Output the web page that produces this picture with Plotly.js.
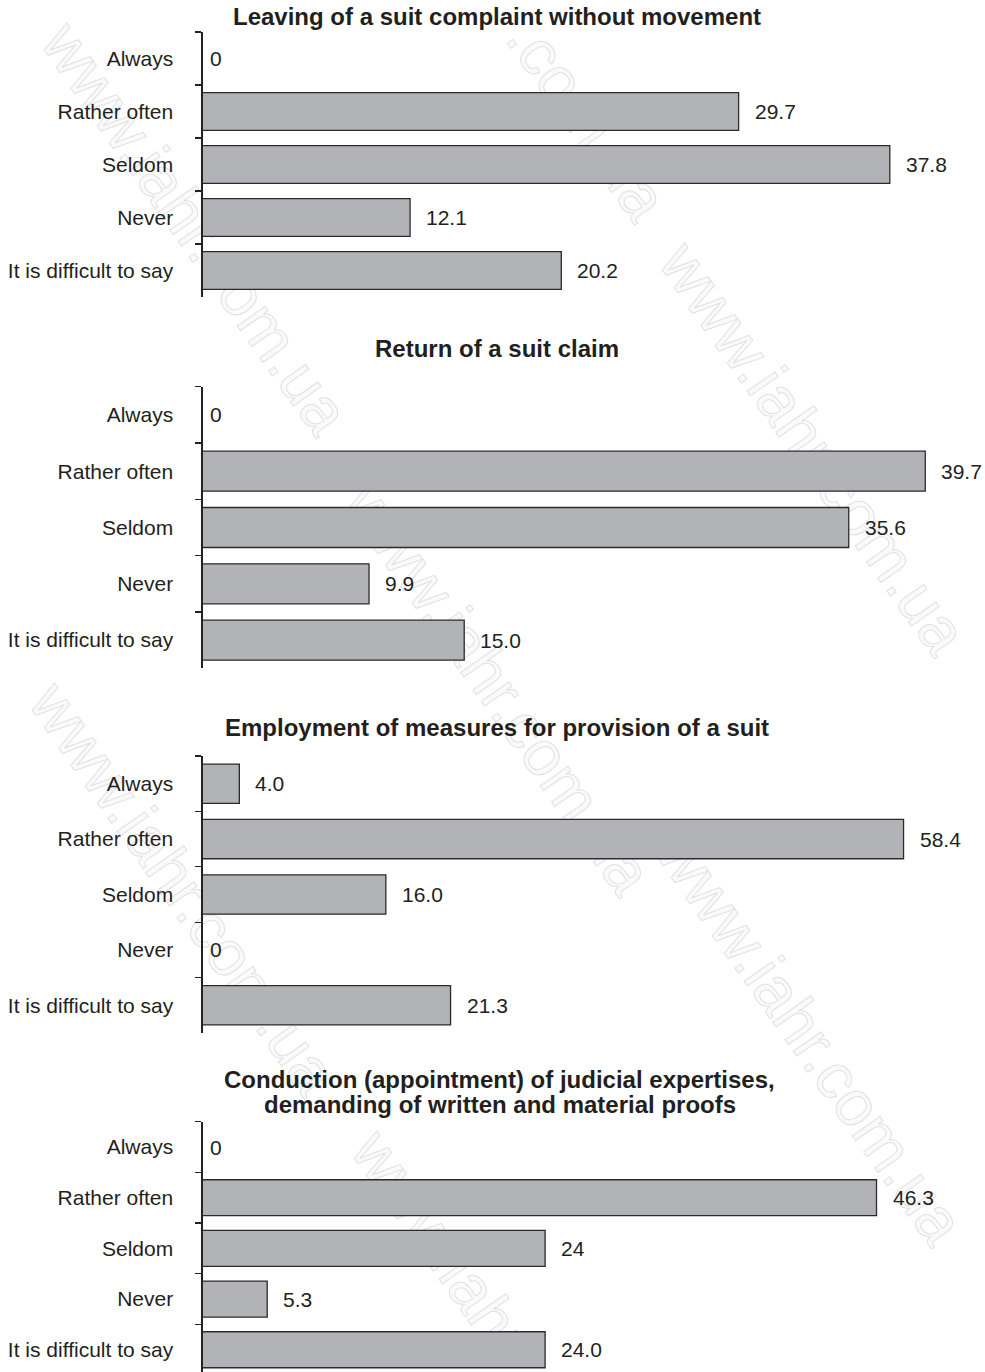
<!DOCTYPE html>
<html>
<head>
<meta charset="utf-8">
<script src="https://cdn.plot.ly/plotly-3.0.1.min.js"></script>
<style>
  html, body { margin: 0; padding: 0; background: #ffffff; }
  #wrap { position: relative; width: 985px; height: 1372px; overflow: hidden; }
  .wm { position: absolute; font-family: "Liberation Sans", Arial, sans-serif; font-size: 64px;
        color: #fafafa; -webkit-text-stroke: 1px #e1e1e1; white-space: nowrap;
        transform-origin: 0 50%; line-height: 64px; z-index: 0; }
  #chart { position: absolute; left: 0; top: 0; width: 985px; height: 1372px; z-index: 1; }
</style>
</head>
<body>
<div id="wrap">
  <div id="chart"></div>
</div>
<script>
// ---- data ----
const categories = ["Always", "Rather often", "Seldom", "Never", "It is difficult to say"];

const titles = [
  "Leaving of a suit complaint without movement",
  "Return of a suit claim",
  "Employment of measures for provision of a suit",
  "Conduction (appointment) of judicial expertises,",
  "demanding of written and material proofs"
];

const values1 = [0, 29.7, 37.8, 12.1, 20.2];
const labels1 = ["0", "29.7", "37.8", "12.1", "20.2"];

const values2 = [0, 39.7, 35.6, 9.9, 15.0];
const labels2 = ["0", "39.7", "35.6", "9.9", "15.0"];

const values3 = [4.0, 58.4, 16.0, 0, 21.3];
const labels3 = ["4.0", "58.4", "16.0", "0", "21.3"];

const values4 = [0, 46.3, 24, 5.3, 24.0];
const labels4 = ["0", "46.3", "24", "5.3", "24.0"];

const watermarkTexts = ["www.iahr.com.ua", ".com.ua", "www.iahr.com.ua", "www.iahr.com.ua",
                        "www.iahr.com.ua", "www.iahr.com.ua", "www.iahr"];

// ---- watermarks (behind the chart) ----
const wmStarts = [[57, 30], [522, 26], [675, 250], [360, 490], [45, 690], [672, 840], [367, 1138]];
const wrap = document.getElementById('wrap');
wmStarts.forEach(function (p, i) {
  const d = document.createElement('div');
  d.className = 'wm';
  d.textContent = watermarkTexts[i];
  d.style.left = p[0] + 'px';
  d.style.top = (p[1] - 32) + 'px';
  d.style.transform = 'rotate(55deg)';
  wrap.insertBefore(d, wrap.firstChild);
});

// ---- layout helpers ----
const W = 985, H = 1372;
const FONT = '"Liberation Sans", Arial, Helvetica, sans-serif';
const INK = '#231f20';
const axisLeft = 202.7 / W;

const panels = [
  { vals: values1, labs: labels1, xr: [0.99, 42.9], top: 32, bottom: 297, yr: [4.5, -0.5] },
  { vals: values2, labs: labels2, xr: [0.99, 42.9], top: 386.7, bottom: 668.3, yr: [4.5, -0.5] },
  { vals: values3, labs: labels3, xr: [1.0, 65.07], top: 756, bottom: 1033, yr: [4.5, -0.5] },
  { vals: values4, labs: labels4, xr: [0.96, 53.6], top: 1121.7, bottom: 1372, yr: [4.439, -0.5] }
];

const data = [];
const layout = {
  width: W, height: H,
  margin: { l: 0, r: 0, t: 0, b: 0, pad: 0 },
  paper_bgcolor: 'rgba(0,0,0,0)',
  plot_bgcolor: 'rgba(0,0,0,0)',
  showlegend: false,
  font: { family: FONT, size: 21, color: INK },
  annotations: []
};

panels.forEach(function (p, i) {
  const n = i === 0 ? '' : String(i + 1);
  const xa = 'x' + n, ya = 'y' + n;
  data.push({
    type: 'bar', orientation: 'h',
    y: categories, x: p.vals,
    xaxis: xa, yaxis: ya,
    width: 0.71,
    marker: { color: '#b1b3b6', line: { color: '#2b2b2b', width: 1.3 } },
    hoverinfo: 'skip'
  });
  layout['xaxis' + n] = {
    domain: [axisLeft, 1], range: p.xr, anchor: ya,
    visible: false, showgrid: false, zeroline: false, fixedrange: true
  };
  layout['yaxis' + n] = {
    domain: [1 - p.bottom / H, 1 - p.top / H], anchor: xa,
    type: 'category', categoryarray: categories, categoryorder: 'array',
    range: p.yr,
    showline: true, linecolor: '#222', linewidth: 1.3,
    ticks: 'outside', ticklen: 6, tickwidth: 1.2, tickcolor: '#222',
    tickson: 'boundaries',
    ticklabelstandoff: 24,
    showgrid: false, zeroline: false, fixedrange: true,
    tickfont: { family: FONT, size: 21, color: INK }
  };
  p.vals.forEach(function (v, k) {
    layout.annotations.push({
      xref: xa, yref: ya,
      x: Math.max(v, p.xr[0]), y: categories[k],
      text: p.labs[k], showarrow: false,
      xanchor: 'left', yanchor: 'middle',
      xshift: v > 0 ? 14 : 5,
      font: { family: FONT, size: 21, color: INK }
    });
  });
});

// titles
const titlePos = [[497, 17], [497, 349], [497, 727], [500, 1079], [500, 1104]];
titles.forEach(function (t, i) {
  layout.annotations.push({
    xref: 'paper', yref: 'paper',
    x: titlePos[i][0] / W, y: 1 - titlePos[i][1] / H,
    text: '<b>' + t + '</b>', showarrow: false,
    xanchor: 'center', yanchor: 'middle',
    font: { family: FONT, size: 24, color: INK }
  });
});

Plotly.newPlot('chart', data, layout, { displayModeBar: false, staticPlot: true });
</script>
</body>
</html>
